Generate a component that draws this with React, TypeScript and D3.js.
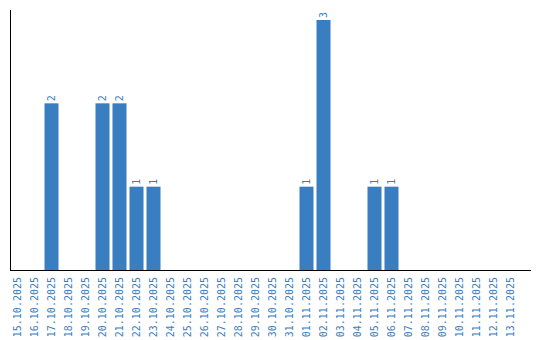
import React from "react";
import * as d3 from "d3";

const dates = [
  "15.10.2025","16.10.2025","17.10.2025","18.10.2025","19.10.2025","20.10.2025",
  "21.10.2025","22.10.2025","23.10.2025","24.10.2025","25.10.2025","26.10.2025",
  "27.10.2025","28.10.2025","29.10.2025","30.10.2025","31.10.2025","01.11.2025",
  "02.11.2025","03.11.2025","04.11.2025","05.11.2025","06.11.2025","07.11.2025",
  "08.11.2025","09.11.2025","10.11.2025","11.11.2025","12.11.2025","13.11.2025",
];
const counts = [0,0,2,0,0,2,2,1,1,0,0,0,0,0,0,0,0,1,3,0,0,1,1,0,0,0,0,0,0,0];

const W = 540, H = 340;
const COLOR = "#3a7ec2";

export default function App() {
  const x = d3.scaleBand<string>().domain(dates).range([9, 519]).paddingInner(0.176).paddingOuter(0.088);
  const y = d3.scaleLinear().domain([0, 3]).range([270, 20]);
  const font = "DejaVu Sans Mono, monospace";
  return (
    <svg width={W} height={H} style={{ position: "absolute", left: 0, top: 0 }}>
      {dates.map((d, i) => {
        const v = counts[i];
        const cx = (x(d) as number) + x.bandwidth() / 2;
        return (
          <g key={d}>
            {v > 0 && (
              <>
                <rect x={x(d)} y={y(v)} width={x.bandwidth()} height={y(0) - y(v)} fill={COLOR} />
                <text transform={`translate(${cx},${y(v) - 2}) rotate(-90)`} dy="0.35em" fontSize={10} fontFamily={font} fill={COLOR}>{v}</text>
              </>
            )}
            <text transform={`translate(${cx},277) rotate(-90)`} dy="0.35em" textAnchor="end" fontSize={10} fontFamily={font} fill={COLOR}>{d}</text>
          </g>
        );
      })}
      <line x1={10.5} x2={10.5} y1={10} y2={271} stroke="#000" strokeWidth={1} />
      <line x1={10} x2={531} y1={270.5} y2={270.5} stroke="#000" strokeWidth={1} />
    </svg>
  );
}
